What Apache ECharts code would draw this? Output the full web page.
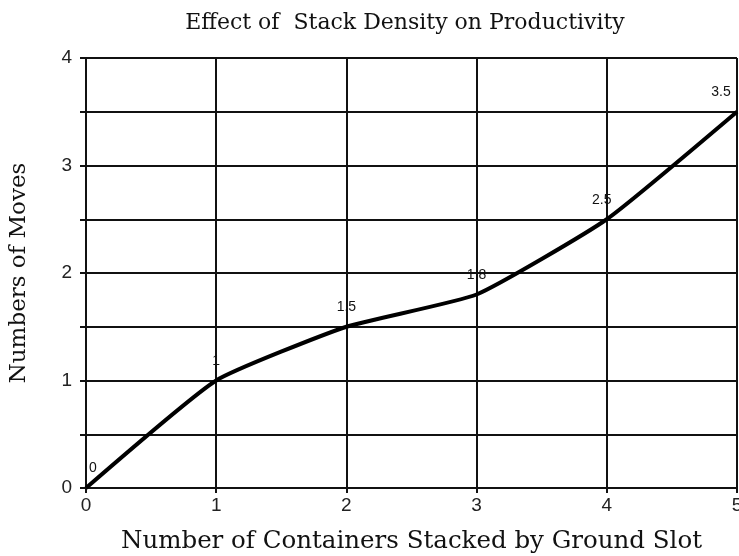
<!DOCTYPE html>
<html>
<head>
<meta charset="utf-8">
<script src="https://cdn.jsdelivr.net/npm/echarts@6/dist/echarts.min.js"></script>
<style>
  html, body { margin: 0; padding: 0; background: #fff; }
</style>
</head>
<body>
<div id="chart" style="width: 739px;height: 556px;"></div>
<script>
// stack height vs moves
var containers = [0, 1, 2, 3, 4, 5]
var moves = [0, 1, 1.5, 1.8, 2.5, 3.5]
var yTicks = [0, 1, 2, 3, 4]

var serif = 'DejaVu Serif'
var last = containers.length - 1

var points = containers.map(function(c, i) {
  var item = { value: [c, moves[i]] }
  // keep edge labels inside the plot like the original
  if (i === 0) item.label = { offset: [7, 0] }
  if (i === last) item.label = { offset: [-16, 0] }
  if (i === last - 1) item.label = { offset: [-5, 0] }
  return item
})

var chart = echarts.init(document.getElementById('chart'))
chart.setOption({
  animation: false,
  backgroundColor: '#fff',
  title: {
    text: 'Effect of  Stack Density on Productivity',
    left: 400,
    textAlign: 'center',
    top: 7,
    textStyle: { fontFamily: serif, fontSize: 22, fontWeight: 'normal', color: '#111' }
  },
  grid: { left: 86, right: 2, top: 58, bottom: 68, outerBoundsMode: 'none' },
  xAxis: {
    type: 'value',
    min: 0,
    max: 5,
    interval: 1,
    name: 'Number of Containers Stacked by Ground Slot',
    nameLocation: 'middle',
    nameGap: 41,
    nameTextStyle: { fontFamily: serif, fontSize: 24.5, color: '#111' },
    axisLine: { lineStyle: { color: '#111', width: 2 } },
    axisTick: { show: true, length: 5, lineStyle: { color: '#111', width: 2 } },
    axisLabel: { fontFamily: 'Liberation Sans', fontSize: 19, color: '#222', margin: 8 },
    splitLine: { lineStyle: { color: '#111', width: 2 } }
  },
  yAxis: {
    type: 'value',
    min: 0,
    max: 4,
    interval: 0.5,
    name: 'Numbers of Moves',
    nameLocation: 'middle',
    nameGap: 55,
    nameTextStyle: { fontFamily: serif, fontSize: 23, color: '#111' },
    axisLine: { show: true, lineStyle: { color: '#111', width: 2 } },
    axisTick: { show: true, length: 6, lineStyle: { color: '#111', width: 2 } },
    axisLabel: {
      fontFamily: 'Liberation Sans',
      fontSize: 19,
      color: '#222',
      margin: 14,
      formatter: function(v) {
        return yTicks.indexOf(v) >= 0 ? String(v) : ''
      }
    },
    splitLine: { lineStyle: { color: '#111', width: 2 } }
  },
  series: [{
    type: 'line',
    data: points,
    smooth: 0.15,
    showSymbol: true,
    symbol: 'circle',
    symbolSize: 1,
    itemStyle: { color: '#000' },
    lineStyle: { color: '#000', width: 4 },
    label: {
      show: true,
      position: 'top',
      distance: 12,
      fontFamily: 'Liberation Sans',
      fontSize: 14,
      color: '#111',
      formatter: function(p) { return String(p.value[1]) }
    }
  }]
})
</script>
</body>
</html>
